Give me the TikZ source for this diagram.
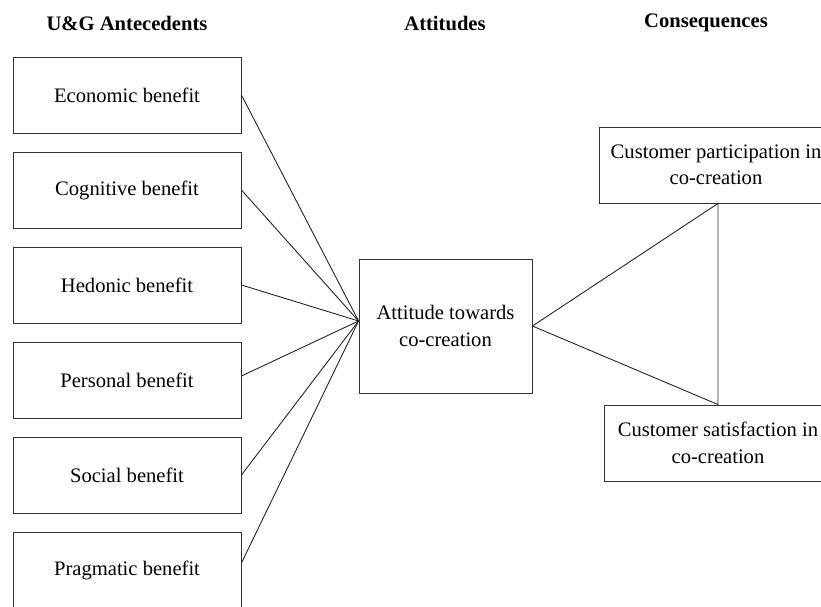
\documentclass[tikz,border=0pt]{standalone}
\usepackage{fontspec}
\setmainfont{Liberation Serif}
\begin{document}
\begin{tikzpicture}[x=1pt,y=-1pt,
  box/.style={draw=black!80, line width=0.9pt, minimum width=228pt, minimum height=76pt, inner sep=0pt, font=\fontsize{20.6}{26.5}\selectfont, align=center},
  hdr/.style={font=\fontsize{20.6}{24}\selectfont\bfseries},
  link/.style={draw=black!85, line width=0.9pt}]
\useasboundingbox (0,0) rectangle (821,606);
\clip (0,0) rectangle (821,606);
\node[hdr] (h1) at (127,23) {U\&G Antecedents};
\node[hdr] (h2) at (445,23) {Attitudes};
\node[hdr] (h3) at (706,23) {Consequences};
\node[box] (eco) at (127,95) {Economic benefit};
\node[box] (cog) at (127,190) {Cognitive benefit};
\node[box] (hed) at (127,285) {Hedonic benefit};
\node[box] (per) at (127,380) {Personal benefit};
\node[box] (soc) at (127,475) {Social benefit};
\node[box] (pra) at (127,570) {Pragmatic benefit};
\node[box, minimum width=173pt, minimum height=134pt] (att) at (445.5,326) {Attitude towards\\co-creation};
\node[box, minimum width=234pt] (par) at (716,165) {Customer participation in\\co-creation};
\node[box, minimum width=228pt] (sat) at (718,443) {Customer satisfaction in\\co-creation};
\coordinate (conv) at ([yshift=5pt]att.west);
\draw[link] (eco.east) -- (conv);
\draw[link] (cog.east) -- (conv);
\draw[link] (hed.east) -- (conv);
\draw[link] ([yshift=4pt]per.east) -- (conv);
\draw[link] (soc.east) -- (conv);
\draw[link] ([yshift=7pt]pra.east) -- (conv);
\coordinate (tp) at ([xshift=2pt]par.south);
\coordinate (bt) at (tp |- sat.north);
\draw[link] (att.east) -- (tp) -- (bt) -- cycle;
\end{tikzpicture}
\end{document}
